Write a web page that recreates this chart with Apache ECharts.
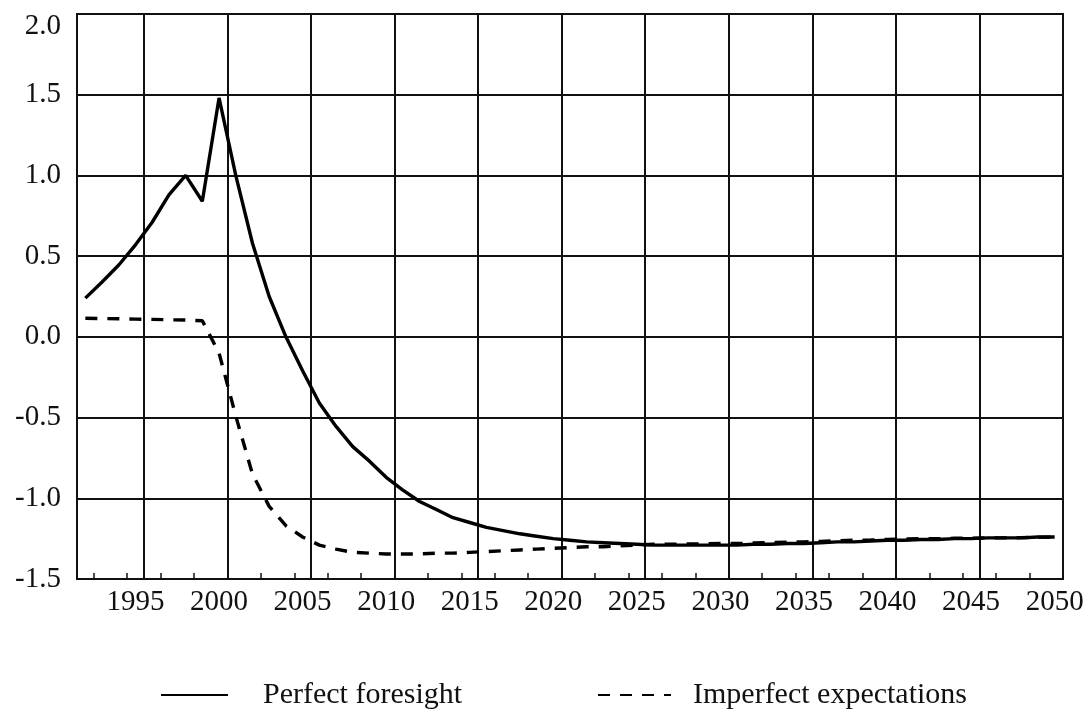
<!DOCTYPE html>
<html>
<head>
<meta charset="utf-8">
<script src="https://cdn.jsdelivr.net/npm/echarts@6/dist/echarts.min.js"></script>
<style>
  html, body { margin: 0; padding: 0; background: #fff; }
  #main { width: 1091px; height: 713px; }
</style>
</head>
<body>
<div id="main"></div>
<script>
var years = [1992, 1993, 1994, 1995, 1996, 1997, 1998, 1999, 2000, 2001,
    2002, 2003, 2004, 2005, 2006, 2007, 2008, 2009, 2010, 2011,
    2012, 2013, 2014, 2015, 2016, 2017, 2018, 2019, 2020, 2021,
    2022, 2023, 2024, 2025, 2026, 2027, 2028, 2029, 2030, 2031,
    2032, 2033, 2034, 2035, 2036, 2037, 2038, 2039, 2040, 2041,
    2042, 2043, 2044, 2045, 2046, 2047, 2048, 2049, 2050];

var perfectForesight = [0.24, 0.34, 0.445, 0.57, 0.71, 0.88, 1.00, 0.84, 1.48, 1.00,
    0.58, 0.25, 0.00, -0.21, -0.41, -0.555, -0.68, -0.77, -0.87, -0.95,
    -1.02, -1.07, -1.12, -1.15, -1.18, -1.20, -1.22, -1.235, -1.25, -1.26,
    -1.27, -1.275, -1.28, -1.285, -1.29, -1.29, -1.29, -1.29, -1.29, -1.29,
    -1.285, -1.285, -1.28, -1.28, -1.275, -1.27, -1.27, -1.265, -1.26, -1.26,
    -1.255, -1.255, -1.25, -1.25, -1.245, -1.245, -1.245, -1.24, -1.24];

var imperfectExpectations = [0.115, 0.113, 0.112, 0.11, 0.108, 0.106, 0.104, 0.10, -0.10, -0.49,
    -0.85, -1.05, -1.17, -1.24, -1.29, -1.315, -1.335, -1.34, -1.345, -1.345,
    -1.345, -1.34, -1.34, -1.335, -1.33, -1.325, -1.32, -1.315, -1.31, -1.305,
    -1.30, -1.30, -1.295, -1.29, -1.285, -1.285, -1.283, -1.282, -1.28, -1.28,
    -1.277, -1.275, -1.272, -1.27, -1.267, -1.263, -1.26, -1.258, -1.255, -1.253,
    -1.25, -1.25, -1.248, -1.247, -1.245, -1.245, -1.244, -1.242, -1.24];

var seriesNames = ['Perfect foresight', 'Imperfect expectations'];

var font = '"Liberation Serif", "Times New Roman", serif';
var ink = '#111';

var chart = echarts.init(document.getElementById('main'));

// labels sit mid-year, grid lines and ticks on the year boundaries
option = {
    animation: false,
    backgroundColor: '#fff',
    grid: {
        left: 77,
        right: 28,
        top: 14,
        bottom: 134,
        show: true,
        borderColor: ink,
        borderWidth: 2,
        outerBoundsMode: 'none'
    },
    legend: [{
        data: [seriesNames[0]],
        left: 155,
        top: 675,
        itemWidth: 67,
        itemHeight: 20,
        itemStyle: { color: 'transparent', borderWidth: 0 },
        lineStyle: { width: 2 },
        textStyle: { fontFamily: font, fontSize: 30, color: ink, padding: [0, 0, 0, 30] }
    }, {
        data: [seriesNames[1]],
        left: 592,
        top: 675,
        itemWidth: 73,
        itemHeight: 20,
        itemStyle: { color: 'transparent', borderWidth: 0 },
        lineStyle: { width: 2 },
        textStyle: { fontFamily: font, fontSize: 30, color: ink, padding: [0, 0, 0, 17] }
    }],
    xAxis: {
        type: 'category',
        data: years,
        boundaryGap: true,
        axisLine: { show: true, onZero: false, lineStyle: { color: ink, width: 2 } },
        axisTick: {
            show: true,
            inside: true,
            length: 6,
            interval: function(index, value) { return Number(value) % 2 === 1; },
            lineStyle: { color: ink, width: 1.5 }
        },
        axisLabel: {
            margin: 9,
            interval: function(index, value) { return Number(value) % 5 === 0; },
            fontFamily: font,
            fontSize: 29,
            color: ink
        },
        splitLine: {
            show: true,
            interval: function(index, value) { return Number(value) % 5 === 1; },
            lineStyle: { color: ink, width: 2 }
        }
    },
    yAxis: {
        type: 'value',
        min: -1.5,
        max: 2.0,
        interval: 0.5,
        axisLine: { show: true, lineStyle: { color: ink, width: 2 } },
        axisTick: { show: false },
        axisLabel: {
            margin: 16,
            fontFamily: font,
            fontSize: 29,
            color: ink,
            formatter: function(v) {
                if (v === 2) return '{top|' + v.toFixed(1) + '}';
                return v.toFixed(1);
            },
            rich: {
                top: { fontFamily: font, fontSize: 29, color: ink, padding: [24, 0, 0, 0] }
            }
        },
        splitLine: { show: true, lineStyle: { color: ink, width: 2 } }
    },
    series: [{
        name: seriesNames[0],
        type: 'line',
        data: perfectForesight,
        symbol: 'none',
        lineStyle: { color: '#000', width: 3.4 },
        itemStyle: { color: '#000' }
    }, {
        name: seriesNames[1],
        type: 'line',
        data: imperfectExpectations,
        symbol: 'none',
        lineStyle: { color: '#000', width: 3.4, type: [12, 10] },
        itemStyle: { color: '#000' }
    }]
};

chart.setOption(option);
</script>
</body>
</html>
